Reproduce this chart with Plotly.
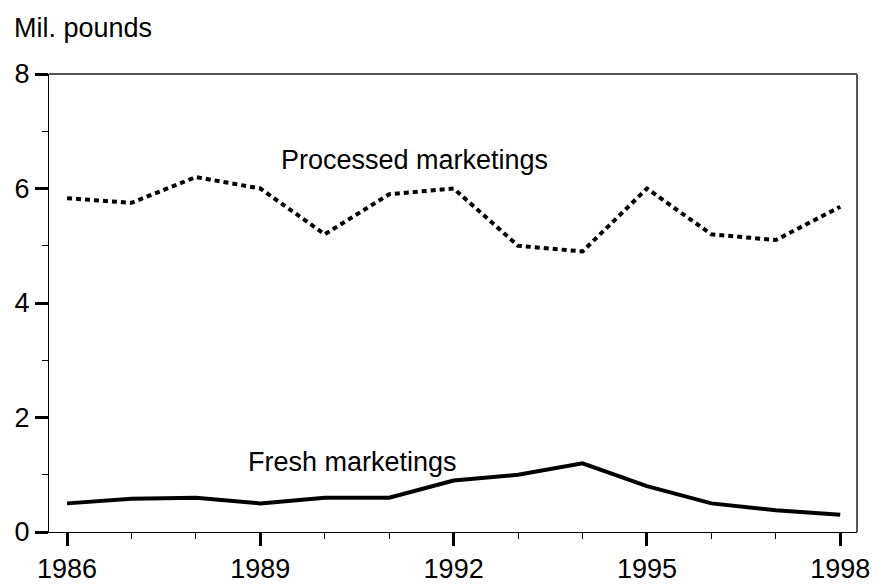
import plotly.graph_objects as go

years = list(range(1986, 1999))
processed = [5.83, 5.75, 6.2, 6.0, 5.2, 5.9, 6.0, 5.0, 4.9, 6.0, 5.2, 5.1, 5.68]
fresh = [0.5, 0.58, 0.6, 0.5, 0.6, 0.6, 0.9, 1.0, 1.2, 0.8, 0.5, 0.38, 0.3]
x_ticks = [1986, 1989, 1992, 1995, 1998]
y_ticks = [0, 2, 4, 6, 8]

FONT = "Liberation Sans, Arial, sans-serif"

fig = go.Figure()
fig.add_trace(go.Scatter(x=years, y=processed, mode="lines",
                         line=dict(color="black", width=4, dash="5px,4px"),
                         showlegend=False, hoverinfo="skip"))
fig.add_trace(go.Scatter(x=years, y=fresh, mode="lines",
                         line=dict(color="black", width=4),
                         showlegend=False, hoverinfo="skip"))

fig.add_annotation(x=1991.39, y=6.5, xref="x", yref="y", text="Processed marketings",
                   showarrow=False, xanchor="center", yanchor="middle",
                   font=dict(family=FONT, size=27, color="black"))
fig.add_annotation(x=1990.43, y=1.22, xref="x", yref="y", text="Fresh marketings",
                   showarrow=False, xanchor="center", yanchor="middle",
                   font=dict(family=FONT, size=27, color="black"))
fig.add_annotation(x=-37 / 808, y=1 + (74 - 28) / 458, xref="paper", yref="paper",
                   text="Mil. pounds", showarrow=False, xanchor="left", yanchor="middle",
                   font=dict(family=FONT, size=27, color="black"))

# top and right border
fig.add_shape(type="line", xref="paper", yref="paper", x0=0, x1=1, y0=1, y1=1,
              line=dict(color="#555555", width=2))
fig.add_shape(type="line", xref="paper", yref="paper", x0=1, x1=1, y0=0, y1=1,
              line=dict(color="#555555", width=2))

fig.update_xaxes(range=[1985.72, 1998.26], tickmode="array", tickvals=x_ticks,
                 ticktext=[str(v) for v in x_ticks], automargin=False,
                 ticks="outside", ticklen=13, tickwidth=3, tickcolor="black",
                 showline=True, linecolor="black", linewidth=1,
                 showgrid=False, zeroline=False,
                 tickfont=dict(family=FONT, size=27, color="black"),
                 minor=dict(tickmode="array", tickvals=years, ticks="outside",
                            ticklen=6, tickwidth=1, tickcolor="black", showgrid=False))
fig.update_yaxes(range=[0, 8], tickmode="array", tickvals=y_ticks, automargin=False,
                 ticks="outside", ticklen=13, tickwidth=3, tickcolor="black",
                 showline=True, linecolor="black", linewidth=1,
                 showgrid=False, zeroline=False,
                 tickfont=dict(family=FONT, size=27, color="black"),
                 minor=dict(tickmode="array", tickvals=[1, 3, 5, 7], ticks="outside",
                            ticklen=6, tickwidth=1, tickcolor="black", showgrid=False))

fig.update_layout(width=887, height=585,
                  margin=dict(l=49, r=30, t=74, b=53, pad=0),
                  plot_bgcolor="white", paper_bgcolor="white",
                  font=dict(family=FONT, size=27, color="black"))

fig.write_html("out.html", config={"displayModeBar": False},
               post_script="document.body.style.margin='0';document.body.style.overflow='hidden';")
